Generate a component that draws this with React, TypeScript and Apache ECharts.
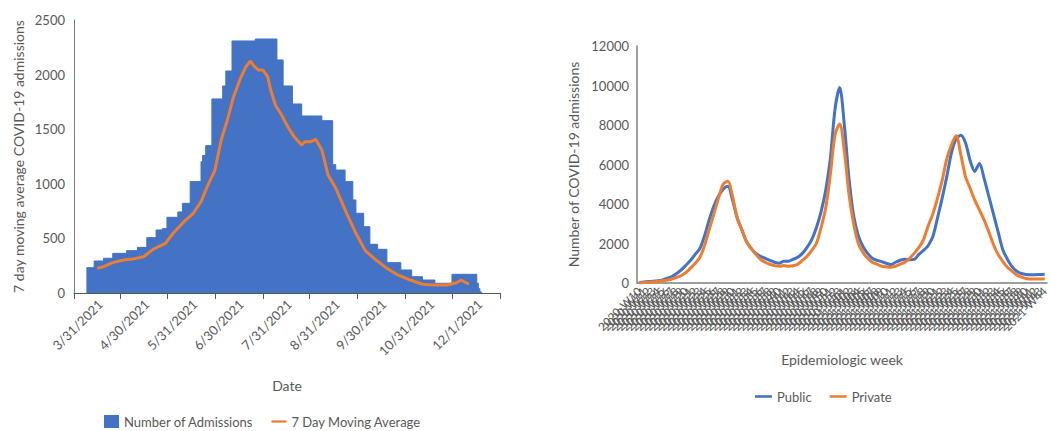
import React, { useEffect, useRef } from 'react';
import * as echarts from 'echarts';

const FONT = 'Lato';
const GRAY = '#595959';
const BLUE = '#4472C4';
const ORANGE = '#ED7D31';
const LINE_ICON = 'path://M0,0H20V3H0Z';

// left chart: daily admissions (step tops, each value holds until the next date)
const admissionSteps: [string, number][] = [
  ['2021-03-22', 232], ['2021-03-27', 293], ['2021-04-02', 318], ['2021-04-08', 363],
  ['2021-04-17', 388], ['2021-04-24', 418], ['2021-04-30', 507], ['2021-05-06', 577],
  ['2021-05-10', 589], ['2021-05-13', 693], ['2021-05-20', 742], ['2021-05-23', 821],
  ['2021-05-28', 1020], ['2021-06-04', 1203], ['2021-06-05', 1260], ['2021-06-07', 1349],
  ['2021-06-11', 1777], ['2021-06-18', 1896], ['2021-06-20', 2033], ['2021-06-24', 2308],
  ['2021-07-09', 2326], ['2021-07-23', 2134], ['2021-07-27', 1896], ['2021-08-02', 1731],
  ['2021-08-08', 1621], ['2021-08-21', 1578], ['2021-08-28', 1175], ['2021-08-30', 1126],
  ['2021-09-05', 1020], ['2021-09-10', 852], ['2021-09-12', 730], ['2021-09-17', 607],
  ['2021-09-21', 446], ['2021-09-26', 400], ['2021-10-02', 278], ['2021-10-11', 211],
  ['2021-10-18', 149], ['2021-10-25', 119], ['2021-11-02', 89], ['2021-11-13', 171],
  ['2021-11-29', 90], ['2021-11-30', 40], ['2021-12-01', 10], ['2021-12-02', 0],
];

const movingAverage: [string, number][] = [
  ['2021-03-29', 226], ['2021-04-02', 241], ['2021-04-08', 278], ['2021-04-15', 302],
  ['2021-04-21', 311], ['2021-04-28', 332], ['2021-05-04', 400], ['2021-05-12', 455],
  ['2021-05-17', 547], ['2021-05-24', 653], ['2021-05-30', 730], ['2021-06-04', 836],
  ['2021-06-08', 974], ['2021-06-13', 1126], ['2021-06-17', 1401], ['2021-06-21', 1584],
  ['2021-06-25', 1798], ['2021-06-29', 1951], ['2021-07-03', 2072], ['2021-07-06', 2124],
  ['2021-07-08', 2081], ['2021-07-11', 2042], ['2021-07-14', 2042], ['2021-07-17', 1981],
  ['2021-07-19', 1859], ['2021-07-22', 1722], ['2021-07-26', 1630], ['2021-07-30', 1523],
  ['2021-08-03', 1432], ['2021-08-08', 1355], ['2021-08-10', 1386], ['2021-08-14', 1386],
  ['2021-08-17', 1407], ['2021-08-21', 1310], ['2021-08-25', 1081], ['2021-08-30', 959],
  ['2021-09-06', 730], ['2021-09-12', 547], ['2021-09-18', 388], ['2021-09-25', 302],
  ['2021-10-02', 226], ['2021-10-09', 165], ['2021-10-17', 119], ['2021-10-25', 80],
  ['2021-11-01', 73], ['2021-11-10', 73], ['2021-11-16', 94], ['2021-11-19', 119],
  ['2021-11-22', 94], ['2021-11-24', 82],
];

const dateLabels = [
  '2021-03-31', '2021-04-30', '2021-05-31', '2021-06-30', '2021-07-31',
  '2021-08-31', '2021-09-30', '2021-10-31', '2021-12-01',
];
const dateTicks = [
  '2021-03-14', '2021-04-13', '2021-05-13', '2021-06-13', '2021-07-14',
  '2021-08-13', '2021-09-13', '2021-10-14', '2021-11-13', '2021-12-14',
];
const admissionTicks = [0, 500, 1000, 1500, 2000, 2500];

// right chart: weekly admissions by sector
const weeks = [
  '2020-W10', '2020-W11', '2020-W12', '2020-W13', '2020-W14', '2020-W15', '2020-W16', '2020-W17',
  '2020-W18', '2020-W19', '2020-W20', '2020-W21', '2020-W22', '2020-W23', '2020-W24', '2020-W25',
  '2020-W26', '2020-W27', '2020-W28', '2020-W29', '2020-W30', '2020-W31', '2020-W32', '2020-W33',
  '2020-W34', '2020-W35', '2020-W36', '2020-W37', '2020-W38', '2020-W39', '2020-W40', '2020-W41',
  '2020-W42', '2020-W43', '2020-W44', '2020-W45', '2020-W46', '2020-W47', '2020-W48', '2020-W49',
  '2020-W50', '2020-W51', '2020-W52', '2020-W53', '2021-W01', '2021-W02', '2021-W03', '2021-W04',
  '2021-W05', '2021-W06', '2021-W07', '2021-W08', '2021-W09', '2021-W10', '2021-W11', '2021-W12',
  '2021-W13', '2021-W14', '2021-W15', '2021-W16', '2021-W17', '2021-W18', '2021-W19', '2021-W20',
  '2021-W21', '2021-W22', '2021-W23', '2021-W24', '2021-W25', '2021-W26', '2021-W27', '2021-W28',
  '2021-W29', '2021-W30', '2021-W31', '2021-W32', '2021-W33', '2021-W34', '2021-W35', '2021-W36',
  '2021-W37', '2021-W38', '2021-W39', '2021-W40', '2021-W41', '2021-W42', '2021-W43', '2021-W44',
];

const publicAdm = [
  30, 50, 70, 90, 110, 160, 240, 330, 480, 660, 900, 1150, 1450, 1750, 2400, 3200,
  3900, 4400, 4750, 4900, 4200, 3300, 2700, 2100, 1750, 1500, 1350, 1250, 1150, 1050, 1000, 1100,
  1100, 1200, 1300, 1500, 1800, 2200, 2800, 3600, 4700, 6300, 8800, 9900, 8000, 5300, 3400, 2400,
  1850, 1500, 1250, 1150, 1080, 1000, 930, 1050, 1150, 1200, 1180, 1200, 1450, 1650, 1900, 2350,
  3300, 4300, 5400, 6600, 7300, 7480, 7100, 6200, 5650, 6050, 5300, 4400, 3500, 2600, 1700, 1200,
  830, 600, 480, 430, 420, 420, 430, 440,
];

const privateAdm = [
  0, 20, 40, 60, 80, 110, 150, 200, 280, 380, 530, 750, 1000, 1300, 1900, 2700,
  3500, 4300, 5000, 5150, 4400, 3300, 2700, 2100, 1750, 1450, 1200, 1050, 950, 880, 850, 880,
  850, 870, 950, 1150, 1350, 1650, 2000, 2800, 3800, 5500, 7500, 8050, 6700, 4500, 3000, 2000,
  1550, 1250, 1050, 950, 850, 820, 800, 850, 950, 1050, 1250, 1500, 1800, 2200, 2900, 3500,
  4300, 5200, 6300, 7000, 7450, 6500, 5400, 4800, 4200, 3700, 3200, 2600, 1950, 1450, 1100, 800,
  600, 400, 300, 230, 200, 200, 200, 220,
];
const sectorTicks = [0, 2000, 4000, 6000, 8000, 10000, 12000];

const ts = (s: string) => new Date(s + 'T00:00:00').getTime();
const fmtDate = (v: number) => {
  const d = new Date(v);
  return `${d.getMonth() + 1}/${d.getDate()}/${d.getFullYear()}`;
};

const App: React.FC = () => {
  const chartRef = useRef<HTMLDivElement>(null);

  useEffect(() => {
    if (!chartRef.current) return;
    document.body.style.margin = '0';
    const chart = echarts.init(chartRef.current, null, { renderer: 'svg' });

    const nameStyle = { color: GRAY, fontSize: 14, fontFamily: FONT };
    const labelStyle = { color: GRAY, fontSize: 13, fontFamily: FONT };
    const plain = (v: number) => String(v);

    chart.setOption({
      animation: false,
      textStyle: { fontFamily: FONT },
      grid: [
        { left: 74, top: 20, width: 426, height: 273, outerBoundsMode: 'none' },
        { left: 637, top: 46, width: 410, height: 237, outerBoundsMode: 'none' },
      ],
      legend: [
        {
          left: 99,
          top: 410,
          itemWidth: 15,
          itemHeight: 13,
          itemGap: 18,
          textStyle: { color: GRAY, fontSize: 13 },
          data: [
            { name: 'Number of Admissions', icon: 'rect' },
            { name: '7 Day Moving Average', icon: LINE_ICON },
          ],
        },
        {
          left: 750,
          top: 385,
          itemWidth: 17,
          itemHeight: 13,
          itemGap: 18,
          textStyle: { color: GRAY, fontSize: 13 },
          data: [
            { name: 'Public', icon: LINE_ICON },
            { name: 'Private', icon: LINE_ICON },
          ],
        },
      ],
      xAxis: [
        {
          // dates as timestamps on a value axis, so ticks and labels can sit where the original has them
          type: 'value',
          gridIndex: 0,
          min: ts(dateTicks[0]),
          max: ts(dateTicks[dateTicks.length - 1]),
          name: 'Date',
          nameLocation: 'middle',
          nameGap: 85,
          nameTextStyle: nameStyle,
          axisLine: { show: true, lineStyle: { color: GRAY, width: 1 } },
          axisTick: {
            show: true,
            length: 6,
            customValues: dateTicks.map(ts),
            lineStyle: { color: GRAY },
          },
          axisLabel: {
            ...labelStyle,
            customValues: dateLabels.map(ts),
            rotate: 45,
            margin: 9,
            formatter: (v: number) => fmtDate(v),
          },
          splitLine: { show: false },
        },
        {
          type: 'category',
          gridIndex: 1,
          data: weeks,
          boundaryGap: true,
          name: 'Epidemiologic week',
          nameLocation: 'middle',
          nameGap: 69,
          nameTextStyle: nameStyle,
          axisLine: { show: true, lineStyle: { color: '#7F7F7F', width: 1.5 } },
          axisTick: { show: false },
          axisLabel: { color: GRAY, fontSize: 11.5, rotate: 45, interval: 0, margin: 6 },
          splitLine: { show: false },
        },
      ],
      yAxis: [
        {
          type: 'value',
          gridIndex: 0,
          min: admissionTicks[0],
          max: admissionTicks[admissionTicks.length - 1],
          interval: 500,
          name: '7 day moving average COVID-19 admissions',
          nameLocation: 'middle',
          nameGap: 49,
          nameTextStyle: nameStyle,
          axisLine: { show: true, lineStyle: { color: '#7F7F7F' } },
          axisTick: { show: false },
          axisLabel: { ...labelStyle, margin: 9, formatter: plain },
          splitLine: { show: false },
        },
        {
          type: 'value',
          gridIndex: 1,
          min: sectorTicks[0],
          max: sectorTicks[sectorTicks.length - 1],
          interval: 2000,
          name: 'Number of COVID-19 admissions',
          nameLocation: 'middle',
          nameGap: 57,
          nameTextStyle: nameStyle,
          axisLine: { show: true, lineStyle: { color: '#7F7F7F', width: 1.5 } },
          axisTick: { show: false },
          axisLabel: { ...labelStyle, margin: 8, formatter: plain },
          splitLine: { show: false },
        },
      ],
      series: [
        {
          name: 'Number of Admissions',
          type: 'line',
          step: 'end',
          xAxisIndex: 0,
          yAxisIndex: 0,
          data: admissionSteps.map(([d, v]) => [ts(d), v]),
          symbol: 'none',
          lineStyle: { width: 1, color: BLUE },
          itemStyle: { color: BLUE },
          areaStyle: { color: BLUE, opacity: 1 },
        },
        {
          name: '7 Day Moving Average',
          type: 'line',
          xAxisIndex: 0,
          yAxisIndex: 0,
          data: movingAverage.map(([d, v]) => [ts(d), v]),
          symbol: 'none',
          lineStyle: { width: 3, color: ORANGE },
          itemStyle: { color: ORANGE },
        },
        {
          name: 'Public',
          type: 'line',
          xAxisIndex: 1,
          yAxisIndex: 1,
          data: publicAdm,
          symbol: 'none',
          smooth: 0.3,
          lineStyle: { width: 3, color: BLUE },
          itemStyle: { color: BLUE },
        },
        {
          name: 'Private',
          type: 'line',
          xAxisIndex: 1,
          yAxisIndex: 1,
          data: privateAdm,
          symbol: 'none',
          smooth: 0.3,
          lineStyle: { width: 3, color: ORANGE },
          itemStyle: { color: ORANGE },
        },
      ],
    });

    return () => {
      chart.dispose();
    };
  }, []);

  return <div ref={chartRef} style={{ width: 1051, height: 431 }} />;
};

export default App;
